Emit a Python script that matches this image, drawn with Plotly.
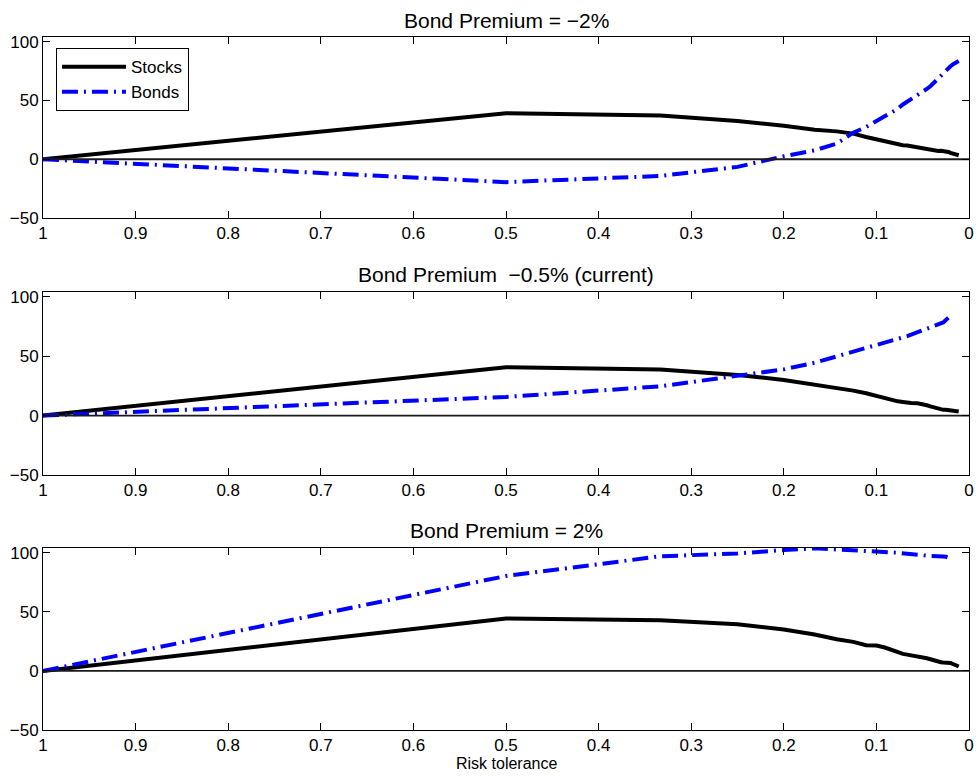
import plotly.graph_objects as go
from plotly.subplots import make_subplots

# Risk tolerance grid (horizontal axis, plotted from 1 down to 0)
risk_tolerance = [
    1.0, 0.5, 0.3333, 0.25, 0.2, 0.1667, 0.1429, 0.125, 0.1111, 0.1,
    0.0909, 0.0833, 0.0769, 0.0714, 0.0667, 0.0625, 0.0556, 0.05, 0.0455, 0.0417,
    0.0385, 0.0357, 0.0333, 0.0303, 0.0278, 0.025, 0.0222, 0.02, 0.0167, 0.0143,
    0.0125, 0.0111,
]

# Bond premium = -2%
stocks_m2 = [
    0.0, 39.2, 37.2, 32.5, 28.5, 25.1, 23.7, 21.8, 18.9, 16.7,
    15.3, 13.8, 12.7, 11.9, 11.6, 11.0, 10.5, 9.6, 9.0, 8.2,
    7.3, 7.1, 7.1, 7.3, 7.1, 6.8, 6.2, 5.4, 4.5, 4.0,
    3.7, 3.4,
]
bonds_m2 = [
    0.0, -19.5, -14.2, -6.5, 2.5, 7.6, 13.3, 22.6, 27.4, 32.5,
    35.9, 40.1, 42.9, 46.6, 48.9, 50.8, 54.0, 57.0, 59.9, 62.1,
    64.7, 66.9, 68.9, 71.5, 73.4, 75.4, 77.7, 79.1, 81.1, 82.2,
    83.1, 83.6,
]

# Bond premium -0.5% (current)
stocks_m05 = [
    0.0, 40.7, 38.7, 34.2, 30.0, 26.3, 23.0, 21.0, 18.8, 16.5,
    14.6, 13.2, 12.0, 11.5, 10.9, 10.6, 10.4, 9.8, 8.7, 7.8,
    7.0, 6.2, 5.6, 5.0, 4.8, 4.8, 4.5, 4.5, 4.2, 3.9,
    3.6, 3.4,
]
bonds_m05 = [
    0.0, 15.7, 24.6, 33.9, 38.9, 44.5, 49.6, 53.5, 56.6, 59.1,
    61.3, 63.0, 64.4, 65.8, 66.9, 68.1, 69.7, 71.4, 72.8, 74.0,
    74.8, 75.6, 76.5, 77.6, 78.4, 80.4, 81.8, 83.8, None, None,
    None, None,
]

# Bond premium = 2%
stocks_p2 = [
    0.0, 44.4, 42.9, 39.5, 35.0, 30.8, 26.8, 24.6, 21.8, 21.5,
    19.8, 17.5, 15.8, 14.4, 13.8, 13.3, 12.4, 11.9, 10.7, 9.9,
    9.0, 8.5, 7.9, 7.3, 7.1, 7.1, 6.8, 6.8, 5.6, 4.8,
    4.2, 3.7,
]
bonds_p2 = [
    0.0, 80.3, 97.0, 99.4, 102.3, 103.7, 102.8, 102.3, 101.7, 101.4,
    100.8, 100.3, 100.0, 99.7, 99.4, 99.2, 98.3, 97.7, 97.5, 97.2,
    97.2, 97.2, 97.5, 97.2, 96.9, 96.6, 95.8, 93.8, None, None,
    None, None,
]

zero_x = [1.0, 0.0]
zero_y = [0.0, 0.0]

panel_titles = [
    "Bond Premium = \u22122%",
    "Bond Premium  \u22120.5% (current)",
    "Bond Premium = 2%",
]
x_label = "Risk tolerance"
panels = [
    (stocks_m2, bonds_m2),
    (stocks_m05, bonds_m05),
    (stocks_p2, bonds_p2),
]

FONT = "Liberation Sans, Arial, Helvetica, sans-serif"
BLUE = "#0000ff"

fig = make_subplots(rows=3, cols=1)

for i, (stocks, bonds) in enumerate(panels, start=1):
    fig.add_trace(
        go.Scatter(
            x=risk_tolerance, y=stocks, mode="lines", name="Stocks",
            line=dict(color="black", width=4),
            showlegend=(i == 1), legendgroup="stocks",
        ),
        row=i, col=1,
    )
    fig.add_trace(
        go.Scatter(
            x=risk_tolerance, y=bonds, mode="lines", name="Bonds",
            line=dict(color=BLUE, width=4, dash="16px,6px,2px,6px"),
            showlegend=(i == 1), legendgroup="bonds", connectgaps=False,
        ),
        row=i, col=1,
    )
    fig.add_trace(
        go.Scatter(
            x=zero_x, y=zero_y, mode="lines", showlegend=False,
            line=dict(color="#1a1a1a", width=1.8), hoverinfo="skip",
        ),
        row=i, col=1,
    )

# Panel heights in paper units: plot area spans 37..730 px of the page
domains = [[0.7388, 1.0], [0.368, 0.632], [0.0, 0.2626]]
title_y = [1.0245, 0.6566, 0.2886]

axis_common = dict(
    showline=True, linecolor="black", linewidth=1, mirror="ticks",
    ticks="inside", ticklen=7, tickwidth=1, tickcolor="black",
    showgrid=False, zeroline=False, automargin=False,
    tickfont=dict(family=FONT, size=17, color="black"),
)

for i in range(1, 4):
    fig.update_xaxes(
        range=[1, 0], tick0=0, dtick=0.1, domain=[0, 1],
        row=i, col=1, **axis_common,
    )
    fig.update_yaxes(
        range=[-50, 104], tickvals=[-50, 0, 50, 100],
        domain=domains[i - 1], row=i, col=1, **axis_common,
    )
    fig.add_annotation(
        text=panel_titles[i - 1], xref="paper", yref="paper",
        x=0.5, y=title_y[i - 1], xanchor="center", yanchor="middle",
        showarrow=False, font=dict(family=FONT, size=21, color="black"),
    )

fig.add_annotation(
    text=x_label, xref="paper", yref="paper",
    x=0.5, y=-0.049, xanchor="center", yanchor="middle",
    showarrow=False, font=dict(family=FONT, size=16, color="black"),
)

fig.update_layout(
    width=979, height=776,
    margin=dict(l=43, r=10, t=37, b=46),
    paper_bgcolor="white", plot_bgcolor="white",
    font=dict(family=FONT, color="black"),
    legend=dict(
        x=0.014, y=0.984, xanchor="left", yanchor="top",
        bgcolor="white", bordercolor="black", borderwidth=1,
        font=dict(family=FONT, size=17, color="black"),
        tracegroupgap=0, itemwidth=64,
    ),
)

fig.write_html("out.html")
